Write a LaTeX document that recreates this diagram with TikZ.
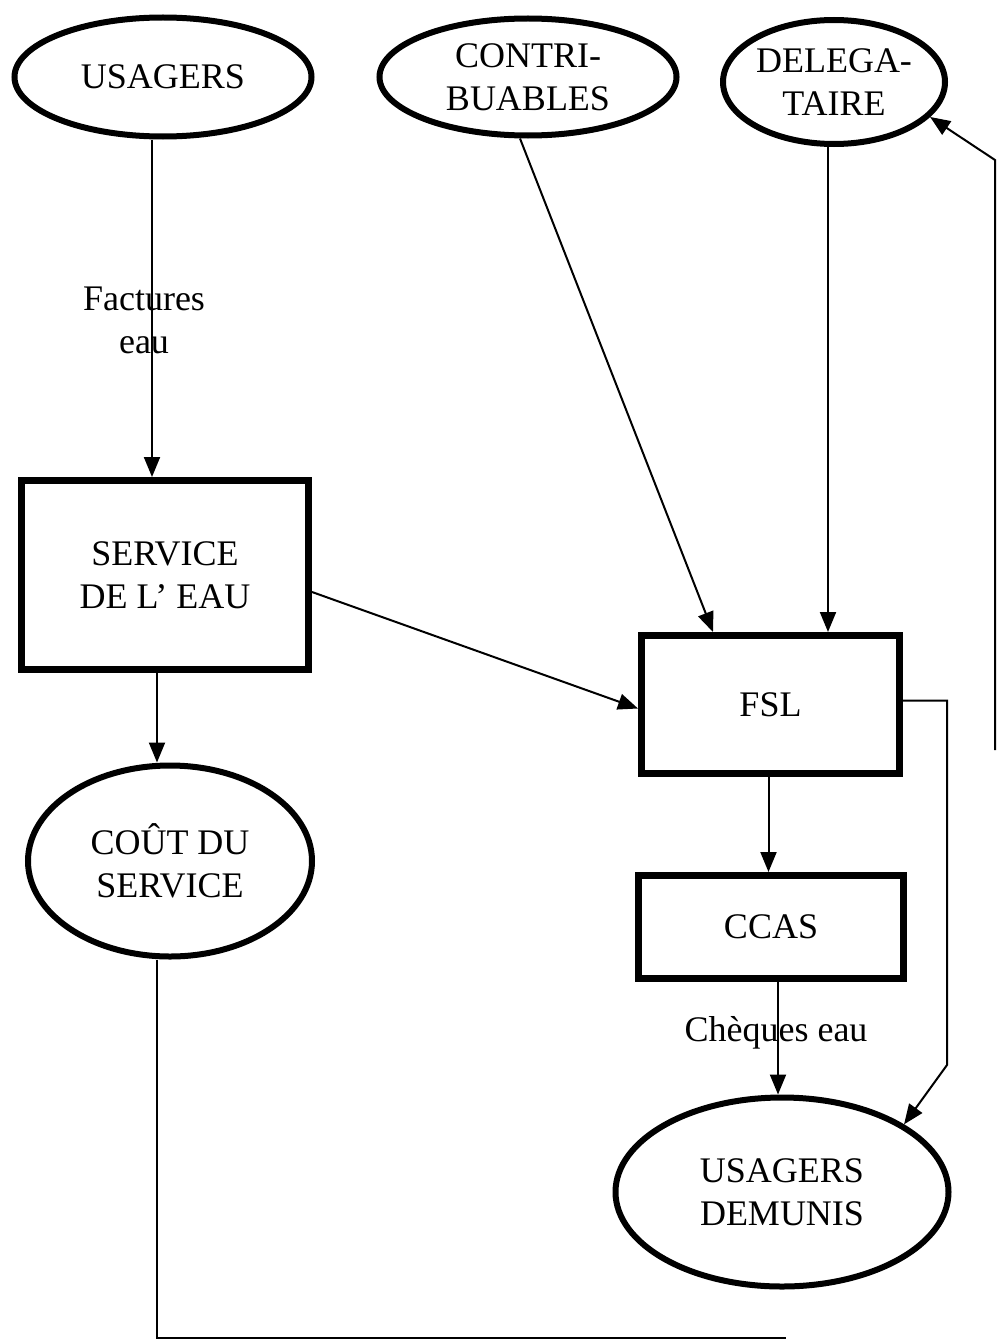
\documentclass[tikz,border=0pt]{standalone}
\usepackage{fontspec}
\setmainfont{Liberation Serif}
\usetikzlibrary{shapes.geometric,arrows.meta}

\begin{document}
\begin{tikzpicture}[x=0.5pt,y=-0.5pt,
  font=\fontsize{18}{21.5}\selectfont,
  box/.style={draw,line width=3.5pt,align=center,inner sep=0pt},
  oval/.style={draw,ellipse,line width=3pt,align=center,inner sep=0pt},
  link/.style={line width=1pt},
  arr/.style={link,-{Triangle[width=8pt,length=10pt]}}]
  \useasboundingbox (0,0) rectangle (997,1343);
  % top row
  \node[oval,minimum width=148.5pt,minimum height=59.5pt] (usagers) at (163,77) {USAGERS};
  \node[oval,minimum width=148.5pt,minimum height=58.5pt] (contrib) at (528,77) {CONTRI-\\BUABLES};
  \node[oval,minimum width=111pt,minimum height=62pt] (deleg) at (834,82) {DELEGA-\\TAIRE};
  % left column
  \node[box,minimum width=143.5pt,minimum height=94.5pt] (service) at (165,575) {SERVICE\\DE L’ EAU};
  \node[oval,minimum width=142pt,minimum height=95.5pt] (cout) at (170,861) {COÛT DU\\SERVICE};
  % right column
  \node[box,minimum width=129pt,minimum height=69pt] (fsl) at (770.5,704.5) {FSL};
  \node[box,minimum width=132.5pt,minimum height=51.5pt] (ccas) at (771,927) {CCAS};
  \node[oval,minimum width=166.5pt,minimum height=94.5pt] (demunis) at (782,1192) {USAGERS\\DEMUNIS};
  % labels
  \node[align=center] (factures) at (144,320) {Factures\\eau};
  \node (cheques) at (776,1033) {Chèques eau};
  % free ends
  \coordinate (rightfoot) at (995,750);
  \coordinate (bottomend) at (786,1338);
  % connectors
  \draw[arr] ([xshift=-5.5pt]usagers.south) -- ([xshift=-5.5pt]usagers.south |- service.north);
  \draw[arr] ([xshift=-4pt]contrib.south) -- ([xshift=-28.75pt]fsl.north);
  \draw[arr] ([xshift=-3pt]deleg.south) -- ([xshift=-3pt]deleg.south |- fsl.north);
  \draw[arr] ([yshift=-8.5pt]service.east) -- ([yshift=-2pt]fsl.west);
  \draw[arr] ([xshift=-4pt]service.south) -- ([xshift=-4pt]service.south |- cout.north);
  \draw[arr] ([xshift=-1pt]fsl.south) -- ([xshift=-1pt]fsl.south |- ccas.north);
  \draw[arr] ([xshift=3.5pt]ccas.south) -- ([xshift=3.5pt]ccas.south |- demunis.north);
  \draw[arr] ([yshift=2pt]fsl.east) -| (947,1065) -- (demunis.29);
  \draw[arr] (rightfoot) -- (995,160) -- (deleg.-20);
  \draw[link] ([xshift=-6.5pt]cout.south) |- (bottomend);
\end{tikzpicture}
\end{document}
